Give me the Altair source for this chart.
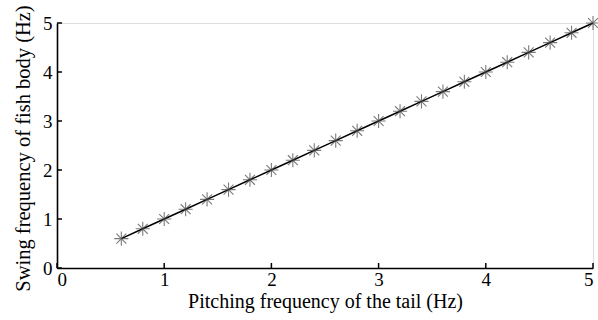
import altair as alt
import pandas as pd

pitch = [0.6, 0.8, 1.0, 1.2, 1.4, 1.6, 1.8, 2.0, 2.2, 2.4, 2.6, 2.8, 3.0,
         3.2, 3.4, 3.6, 3.8, 4.0, 4.2, 4.4, 4.6, 4.8, 5.0]
swing = [0.6, 0.8, 1.0, 1.2, 1.4, 1.6, 1.8, 2.0, 2.2, 2.4, 2.6, 2.8, 3.0,
         3.2, 3.4, 3.6, 3.8, 4.0, 4.2, 4.4, 4.6, 4.8, 5.0]
ticks = [0, 1, 2, 3, 4, 5]

df = pd.DataFrame({"pitch": pitch, "swing": swing})
tdf = pd.DataFrame({"t": ticks})

W, H = 536, 245
FONT = "Liberation Serif"
star = "M-1,0L1,0M0,-1L0,1M-0.7,-0.7L0.7,0.7M-0.7,0.7L0.7,-0.7"

xs = alt.Scale(domain=[0, 5], nice=False, zero=False)
ys = alt.Scale(domain=[0, 5], nice=False, zero=False)

x_main = alt.Axis(orient="bottom", values=ticks, ticks=False, domainColor="black",
                  domainWidth=1.6, labelFont=FONT, labelFontSize=19, labelColor="black",
                  labelPadding=2, labelAngle=0, grid=False,
                  title="Pitching frequency of the tail (Hz)",
                  titleFont=FONT, titleFontSize=20, titleFontWeight="normal",
                  titleColor="black", titlePadding=2, format="d")
y_main = alt.Axis(orient="left", values=ticks, ticks=False, domainColor="black",
                  domainWidth=1.6, labelFont=FONT, labelFontSize=19, labelColor="black",
                  labelPadding=5, grid=False, title="Swing frequency of fish body (Hz)",
                  titleFont=FONT, titleFontSize=20.5, titleFontWeight="normal",
                  titleColor="black", titlePadding=9, titleY=125, titleBaseline="bottom",
                  titleAlign="center", format="d")

line = alt.Chart(df).mark_line(color="black", strokeWidth=1.5).encode(
    x=alt.X("pitch:Q", scale=xs, axis=x_main),
    y=alt.Y("swing:Q", scale=ys, axis=y_main),
)
pts = alt.Chart(df).mark_point(shape=star, size=200, filled=False, color="#444444",
                               strokeWidth=1.1).encode(
    x=alt.X("pitch:Q", scale=xs),
    y=alt.Y("swing:Q", scale=ys),
)
xticks = alt.Chart(tdf).mark_rule(color="black", strokeWidth=1.5).encode(
    x=alt.X("t:Q", scale=xs),
    y=alt.value(H),
    y2=alt.value(H - 5),
)
yticks = alt.Chart(tdf).mark_rule(color="black", strokeWidth=1.5).encode(
    y=alt.Y("t:Q", scale=ys),
    x=alt.value(0),
    x2=alt.value(5),
)

chart = alt.layer(line, pts, xticks, yticks).properties(
    width=W, height=H,
    autosize=alt.AutoSizeParams(type="none"),
    padding={"left": 57, "top": 23, "right": 5, "bottom": 52},
).configure_view(stroke=None).configure(background="white")

chart.save("out.html", embed_options={"renderer": "svg", "actions": False})
